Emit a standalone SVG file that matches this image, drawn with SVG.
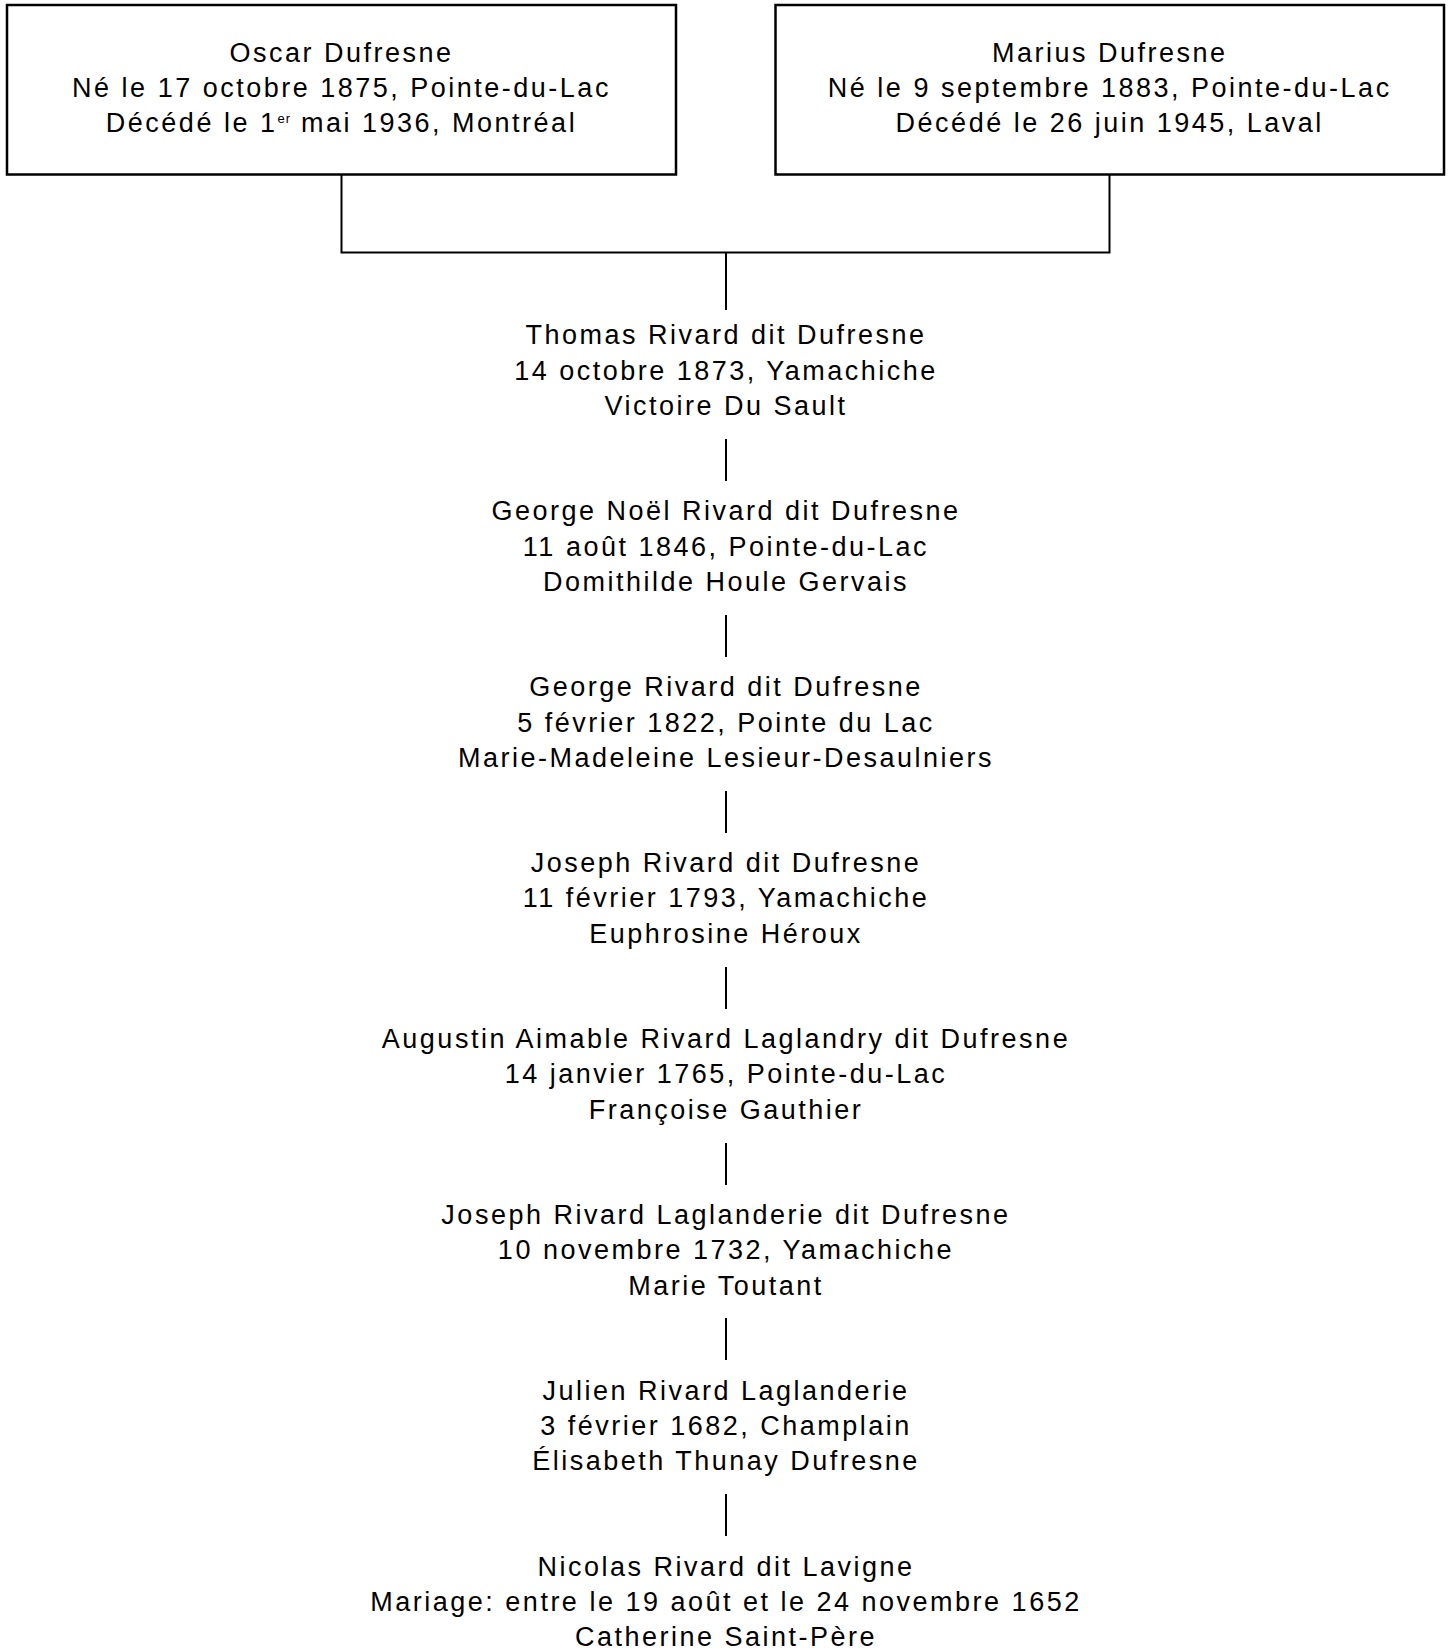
<svg xmlns="http://www.w3.org/2000/svg" width="1449" height="1648" viewBox="0 0 1449 1648">
<style>
.box{fill:#fff;stroke:#000;stroke-width:2.5}
.ln{stroke:#000;stroke-width:2;fill:none}
text{font-family:"Liberation Sans",Arial,sans-serif;font-size:27px;letter-spacing:2.5px;fill:#000;text-anchor:middle}
.sup{font-size:13px;letter-spacing:1px}
</style>
<rect width="1449" height="1648" fill="#fff"/>
<g id="connectors">
<polyline class="ln" points="341.5,174.5 341.5,252.5 1109.5,252.5 1109.5,174.5"/>
<line class="ln" x1="726" y1="252.5" x2="726" y2="310"/>
<line class="ln" x1="726" y1="439" x2="726" y2="481"/>
<line class="ln" x1="726" y1="615" x2="726" y2="657"/>
<line class="ln" x1="726" y1="791" x2="726" y2="833"/>
<line class="ln" x1="726" y1="967" x2="726" y2="1009"/>
<line class="ln" x1="726" y1="1143" x2="726" y2="1185"/>
<line class="ln" x1="726" y1="1318" x2="726" y2="1360"/>
<line class="ln" x1="726" y1="1494" x2="726" y2="1536"/>
</g>
<g id="oscar">
<rect class="box" x="7" y="5" width="669" height="169.5"/>
<text x="341.5" y="61.7">Oscar Dufresne</text>
<text x="341.5" y="97">Né le 17 octobre 1875, Pointe-du-Lac</text>
<text x="341.5" y="132.3">Décédé le 1<tspan class="sup" dy="-9">er</tspan><tspan dy="9"> mai 1936, Montréal</tspan></text>
</g>
<g id="marius">
<rect class="box" x="775.5" y="5" width="668.5" height="169.5"/>
<text x="1109.75" y="61.7">Marius Dufresne</text>
<text x="1109.75" y="97">Né le 9 septembre 1883, Pointe-du-Lac</text>
<text x="1109.75" y="132.3">Décédé le 26 juin 1945, Laval</text>
</g>
<g id="thomas">
<text x="726" y="344.4">Thomas Rivard dit Dufresne</text>
<text x="726" y="379.7">14 octobre 1873, Yamachiche</text>
<text x="726" y="415">Victoire Du Sault</text>
</g>
<g id="george-noel">
<text x="726" y="520.3">George Noël Rivard dit Dufresne</text>
<text x="726" y="555.6">11 août 1846, Pointe-du-Lac</text>
<text x="726" y="590.9">Domithilde Houle Gervais</text>
</g>
<g id="george">
<text x="726" y="696.2">George Rivard dit Dufresne</text>
<text x="726" y="731.5">5 février 1822, Pointe du Lac</text>
<text x="726" y="766.8">Marie-Madeleine Lesieur-Desaulniers</text>
</g>
<g id="joseph">
<text x="726" y="872.1">Joseph Rivard dit Dufresne</text>
<text x="726" y="907.4">11 février 1793, Yamachiche</text>
<text x="726" y="942.7">Euphrosine Héroux</text>
</g>
<g id="augustin">
<text x="726" y="1048">Augustin Aimable Rivard Laglandry dit Dufresne</text>
<text x="726" y="1083.3">14 janvier 1765, Pointe-du-Lac</text>
<text x="726" y="1118.6">Françoise Gauthier</text>
</g>
<g id="joseph-laglanderie">
<text x="726" y="1223.9">Joseph Rivard Laglanderie dit Dufresne</text>
<text x="726" y="1259.2">10 novembre 1732, Yamachiche</text>
<text x="726" y="1294.5">Marie Toutant</text>
</g>
<g id="julien">
<text x="726" y="1399.8">Julien Rivard Laglanderie</text>
<text x="726" y="1435.1">3 février 1682, Champlain</text>
<text x="726" y="1470.4">Élisabeth Thunay Dufresne</text>
</g>
<g id="nicolas">
<text x="726" y="1575.7">Nicolas Rivard dit Lavigne</text>
<text x="726" y="1611">Mariage: entre le 19 août et le 24 novembre 1652</text>
<text x="726" y="1646.3">Catherine Saint-Père</text>
</g>
</svg>
